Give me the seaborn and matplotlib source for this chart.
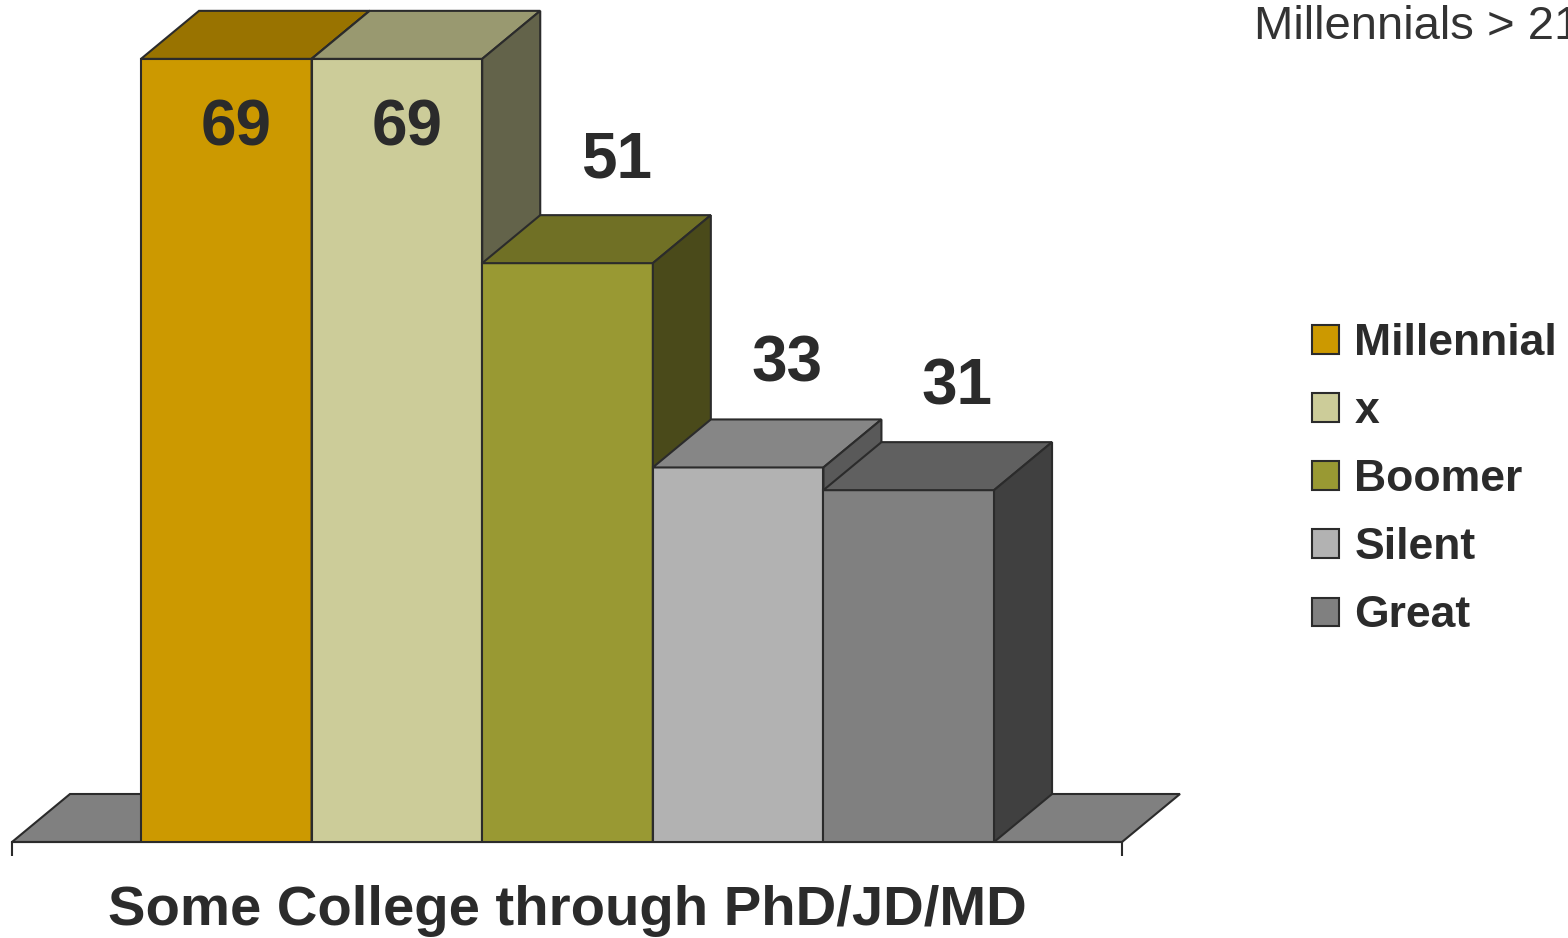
import numpy as np
import pandas as pd
import matplotlib
matplotlib.use("Agg")
import matplotlib.pyplot as plt
from matplotlib.patches import Polygon, Patch
import seaborn as sns

sns.set_theme(style="white")
plt.rcParams['font.family'] = ['Liberation Sans', 'DejaVu Sans']

category = "Some College through PhD/JD/MD"
generations = ["Millennial", "x", "Boomer", "Silent", "Great"]
values = [69, 69, 51, 33, 31]
note = "Millennials > 21"

front_col = ["#CC9900", "#CCCC99", "#999933", "#B2B2B2", "#808080"]
top_col = ["#997300", "#999970", "#707025", "#868686", "#606060"]
side_col = ["#735700", "#63634A", "#4A4A1A", "#595959", "#404040"]
edge = "#2b2b2b"
text_col = "#2b2b2b"

df = pd.DataFrame({"group": category, "gen": generations, "value": values})

W, H = 1568, 938
fig = plt.figure(figsize=(W / 100, H / 100), dpi=100)
ax = fig.add_axes([12 / W, 96 / H, 1110 / W, 842 / H])

sns.barplot(data=df, x="group", y="value", hue="gen", hue_order=generations,
            palette=dict(zip(generations, front_col)), width=0.8, gap=0,
            edgecolor=edge, linewidth=1.5, saturation=1, legend=False, ax=ax)

ax.set_xlim(-0.521, 0.520)
ax.set_ylim(0, 842 / 11.35)

# depth of the fake 3D in data units
dx = 58 * (ax.get_xlim()[1] - ax.get_xlim()[0]) / 1110
dy = 48 / 11.35

bars = [c.patches[0] for c in ax.containers]
for i, b in enumerate(bars):
    x0, w, h = b.get_x(), b.get_width(), b.get_height()
    b.set_zorder(3 + 3 * i)
    top = Polygon([(x0, h), (x0 + w, h), (x0 + w + dx, h + dy), (x0 + dx, h + dy)],
                  closed=True, facecolor=top_col[i], edgecolor=edge, lw=1.5,
                  zorder=4 + 3 * i, clip_on=False)
    side = Polygon([(x0 + w, 0), (x0 + w + dx, dy), (x0 + w + dx, h + dy), (x0 + w, h)],
                   closed=True, facecolor=side_col[i], edgecolor=edge, lw=1.5,
                   zorder=5 + 3 * i, clip_on=False)
    ax.add_patch(top)
    ax.add_patch(side)
    cx = x0 + w / 2
    if h + dy + 10 > ax.get_ylim()[1]:
        off = (7, -50)
    else:
        off = (35, 74)
    ax.annotate(str(values[i]), (cx, h), xytext=off, textcoords="offset points",
                ha="center", va="center", fontsize=46, fontweight="bold",
                color=text_col, zorder=30)

# floor
xl, xr = ax.get_xlim()
floor = Polygon([(xl, 0), (xr, 0), (xr + dx, dy), (xl + dx, dy)], closed=True,
                facecolor="#808080", edgecolor=edge, lw=1.5, zorder=1, clip_on=False)
ax.add_patch(floor)

for s in ["top", "right", "left"]:
    ax.spines[s].set_visible(False)
ax.spines["bottom"].set_color(edge)
ax.spines["bottom"].set_linewidth(1.5)
ax.set_yticks([])
ax.set_xlabel("")
ax.set_ylabel("")
ax.set_xticks([0])
ax.set_xticklabels([category], fontsize=40.5, fontweight="bold", color=text_col)
ax.tick_params(axis="x", which="major", length=0, pad=31)
ax.set_xticks([xl, xr], minor=True)
ax.tick_params(axis="x", which="minor", length=10, width=1.5, color=edge,
               direction="out", bottom=True)
ax.patch.set_alpha(0)

handles = [Patch(facecolor=c, edgecolor=edge, lw=1.5) for c in front_col]
leg = fig.legend(handles, generations, loc="upper left",
                 bbox_to_anchor=(1312 / W, (H - 323) / H), frameon=False,
                 fontsize=32, handlelength=0.61, handleheight=0.61,
                 handletextpad=0.34, labelspacing=0.61, borderpad=0,
                 borderaxespad=0)
for t in leg.get_texts():
    t.set_fontweight("bold")
    t.set_color(text_col)

fig.text(1254 / W, (H - 27) / H, note, fontsize=34, color="#333333",
         ha="left", va="center")

fig.savefig("out.png", dpi=100)
